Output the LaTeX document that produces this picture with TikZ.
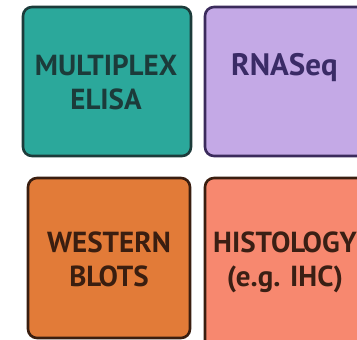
\documentclass[tikz,border=0pt]{standalone}
\usepackage{fontspec}
\setmainfont{PT Sans}
\definecolor{tealbox}{HTML}{2BA89B}
\definecolor{tealline}{HTML}{1C3B3A}
\definecolor{purpbox}{HTML}{C4A9E6}
\definecolor{purpline}{HTML}{3B2B5C}
\definecolor{purptext}{HTML}{3A2B66}
\definecolor{orgbox}{HTML}{E27B38}
\definecolor{orgline}{HTML}{3A1E10}
\definecolor{salbox}{HTML}{F7886F}
\definecolor{saltext}{HTML}{3A1F14}
\begin{document}
\begin{tikzpicture}[x=1pt,y=-1pt,
  card/.style={line width=2.6pt,rounded corners=9pt},
  lbl/.style={font=\fontsize{29}{34}\selectfont\bfseries,align=center,inner sep=0pt}]
\useasboundingbox (0,0) rectangle (357,340);
\begin{scope}
\clip (0,0) rectangle (357,340);
\draw[card,fill=tealbox,draw=tealline] (23,7) rectangle (191,156);
\draw[card,fill=purpbox,draw=purpline] (205,7) rectangle (380,156);
\draw[card,fill=orgbox,draw=orgline] (28,178) rectangle (190,338);
\draw[card,fill=salbox,draw=orgline] (205,178) rectangle (380,360);
\node[lbl,text=tealline,anchor=base] (t1) at (106,109) {MULTIPLEX\\ELISA};
\node[lbl,text=purptext,anchor=base west,font=\fontsize{31}{34}\selectfont\bfseries] (t2) at (231,75) {RNASeq};
\node[lbl,text=orgline,anchor=base] (t3) at (109,286) {WESTERN\\BLOTS};
\node[lbl,text=saltext,anchor=base] (t4) at (285,286) {HISTOLOGY\\(e.g. IHC)};
\end{scope}
\end{tikzpicture}
\end{document}
